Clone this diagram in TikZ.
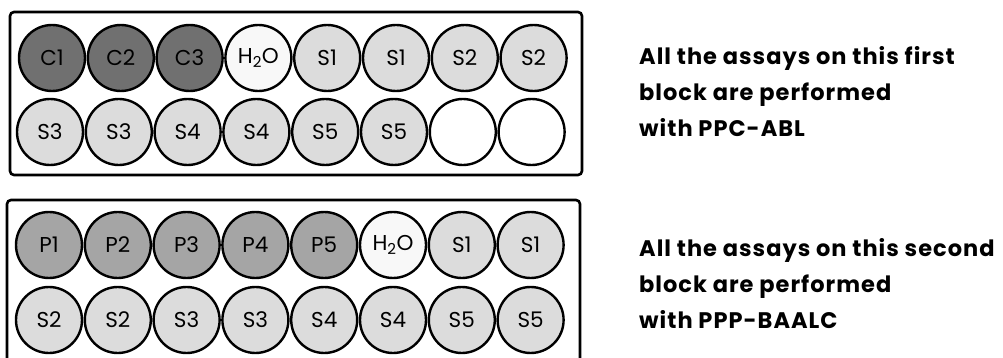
\documentclass[tikz,border=0pt]{standalone}
\usepackage{fontspec}
\setmainfont{Poppins}
\newfontfamily\notefont{Poppins}[LetterSpace=4.5]
\usepackage{tikz}
\usetikzlibrary{positioning}
\definecolor{ctrlbg}{RGB}{112,112,112}
\definecolor{primbg}{RGB}{165,165,165}
\definecolor{samplebg}{RGB}{220,220,220}
\definecolor{waterbg}{RGB}{248,248,248}
\newcommand{\water}{H\textsubscript{2}O}

\tikzset{
    well/.style={circle, draw=black, line width=2.4pt, minimum size=66pt, inner sep=0pt,
        font=\fontsize{21.5}{21.5}\selectfont},
    plate/.style={draw=black, line width=2.6pt, rounded corners=4pt},
    note/.style={anchor=north west, inner sep=0pt, align=left,
        font=\notefont\fontsize{22.5}{36}\selectfont\bfseries}
}

\begin{document}
\begin{tikzpicture}[x=1pt, y=-1pt]
    \clip (0,0) rectangle (1003,358);

    % Plates
    \draw[plate] (10,12) rectangle (582,175);
    \draw[plate] (7,200) rectangle (580,380);

    % First block, top row
    \foreach \lbl/\fc [count=\i] in {C1/ctrlbg, C2/ctrlbg, C3/ctrlbg, \water/waterbg,
        S1/samplebg, S1/samplebg, S2/samplebg, S2/samplebg} {
        \node[well, fill=\fc] (a\i) at ({52+68.8*(\i-1)}, 58) {\lbl};
    }
    % First block, bottom row
    \foreach \lbl/\fc [count=\i] in {S3/samplebg, S3/samplebg, S4/samplebg, S4/samplebg,
        S5/samplebg, S5/samplebg, /white, /white} {
        \node[well, fill=\fc] (b\i) at ({50+68.8*(\i-1)}, 132) {\lbl};
    }

    % Second block, top row
    \foreach \lbl/\fc [count=\i] in {P1/primbg, P2/primbg, P3/primbg, P4/primbg,
        P5/primbg, \water/waterbg, S1/samplebg, S1/samplebg} {
        \node[well, fill=\fc] (c\i) at ({49+68.8*(\i-1)}, 245) {\lbl};
    }
    % Second block, bottom row
    \foreach \lbl/\fc [count=\i] in {S2/samplebg, S2/samplebg, S3/samplebg, S3/samplebg,
        S4/samplebg, S4/samplebg, S5/samplebg, S5/samplebg} {
        \node[well, fill=\fc] (d\i) at ({49+68.8*(\i-1)}, 320) {\lbl};
    }

    % Notes
    \node[note] (note1) at (639,46) {All the assays on this first\\block are performed\\with PPC-ABL};
    \node[note] (note2) at (639,238) {All the assays on this second\\block are performed\\with PPP-BAALC};
\end{tikzpicture}
\end{document}
